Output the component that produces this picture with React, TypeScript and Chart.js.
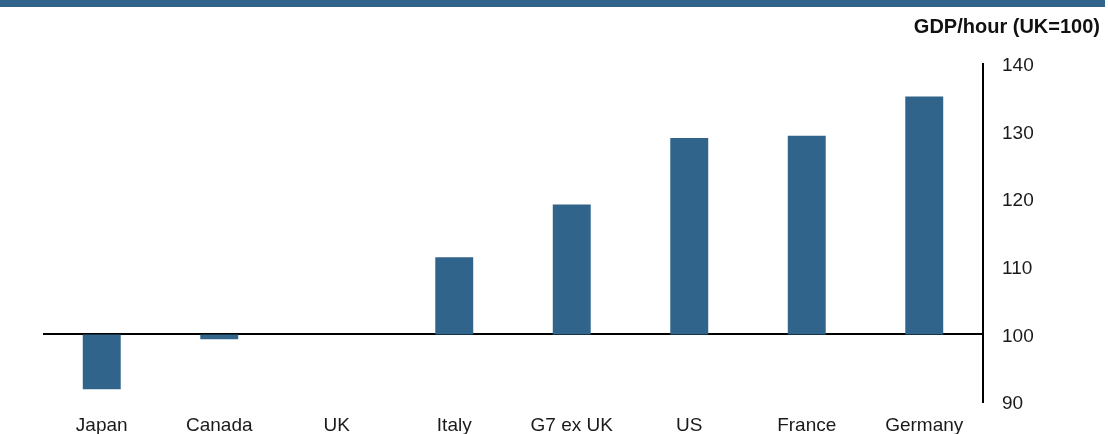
import React, { useEffect, useRef } from "react";
import { Chart, registerables } from "chart.js";

Chart.register(...registerables);

const categories = ["Japan", "Canada", "UK", "Italy", "G7 ex UK", "US", "France", "Germany"];
const gdpPerHour = [91.9, 99.3, 100, 111.4, 119.2, 129.05, 129.4, 135.2];
const baseValue = 100;
const yTicks = [90, 100, 110, 120, 130, 140];
const titleText = "GDP/hour (UK=100)";

const BLUE = "#31648A";
const FONT = "'Liberation Sans', Arial, Helvetica, sans-serif";

const decorPlugin = {
  id: "decor",
  beforeDraw(chart: any) {
    const ctx = chart.ctx;
    ctx.save();
    ctx.fillStyle = BLUE;
    ctx.fillRect(0, 0, 1105, 7);
    ctx.fillStyle = "#111";
    ctx.font = `bold 20px ${FONT}`;
    ctx.textAlign = "right";
    ctx.textBaseline = "alphabetic";
    ctx.fillText(titleText, 1100, 33);
    ctx.restore();
  },
};

export default function App() {
  const ref = useRef<HTMLCanvasElement>(null);

  useEffect(() => {
    document.body.style.margin = "0";
    const canvas = ref.current!;
    const chart = new Chart(canvas, {
      type: "bar",
      data: {
        labels: categories,
        datasets: [
          {
            data: gdpPerHour.map((v) => [baseValue, v]) as any,
            backgroundColor: BLUE,
            borderWidth: 0,
            barPercentage: 0.323,
            categoryPercentage: 1,
          },
        ],
      },
      plugins: [decorPlugin],
      options: {
        animation: false,
        responsive: false,
        maintainAspectRatio: false,
        layout: { padding: { left: 43, top: 64, right: 0, bottom: 0 } },
        plugins: {
          legend: { display: false },
          tooltip: { enabled: false },
          title: { display: false },
        },
        scales: {
          x: {
            grid: { display: false, drawTicks: false },
            border: { display: false },
            ticks: {
              color: "#1a1a1a",
              font: { family: FONT, size: 19 },
              padding: 12,
              maxRotation: 0,
              autoSkip: false,
            },
            afterFit: (s: any) => {
              s.height = 32;
            },
          },
          y: {
            position: "right",
            min: 90,
            max: 140,
            afterBuildTicks: (s: any) => {
              s.ticks = yTicks.map((v) => ({ value: v }));
            },
            grid: {
              drawTicks: false,
              color: (c: any) => (c.tick && c.tick.value === baseValue ? "#000" : "rgba(0,0,0,0)"),
              lineWidth: 2,
            },
            border: { display: true, color: "#000", width: 2 },
            ticks: {
              color: "#1a1a1a",
              font: { family: FONT, size: 19 },
              padding: 19,
              labelOffset: 2,
            },
            afterFit: (s: any) => {
              s.width = 125;
            },
          },
        },
      } as any,
    });
    return () => chart.destroy();
  }, []);

  return <canvas ref={ref} width={1108} height={434} style={{ display: "block" }} />;
}
